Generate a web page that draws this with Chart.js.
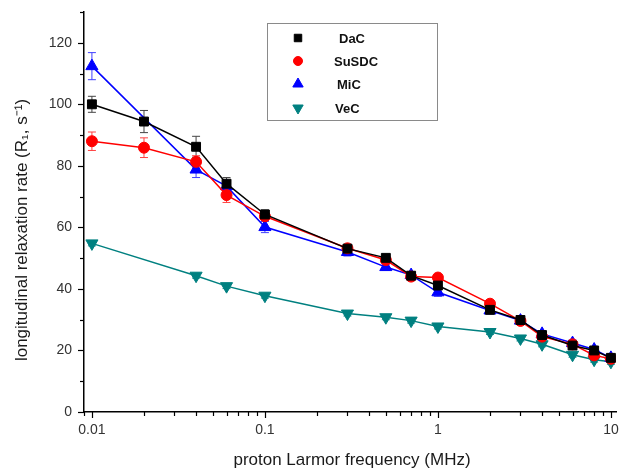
<!DOCTYPE html>
<html>
<head>
<meta charset="utf-8">
<script src="https://cdn.jsdelivr.net/npm/chart.js@4.4.1/dist/chart.umd.min.js"></script>
<style>
  html, body { margin: 0; padding: 0; background: #fff; }
  #wrap { width: 624px; height: 471px; }
</style>
</head>
<body>
<div id="wrap"><canvas id="relaxChart" width="624" height="471"></canvas></div>
<script>
/* ─── data ─── */
const freqs   = [0.01, 0.02, 0.04, 0.06, 0.1, 0.3, 0.5, 0.7, 1, 2, 3, 4, 6, 8, 10];
const dac     = [100, 94.4, 86.2, 74.2, 64.2, 53.1, 50.1, 44.3, 41.1, 33.2, 29.9, 25.0, 21.6, 20.0, 17.6];
const susdc   = [88.0, 85.9, 81.3, 70.5, 63.6, 53.2, 49.4, 44.0, 43.7, 35.2, 29.6, 24.5, 22.0, 18.4, 17.3];
const mic     = [112.4, null, 78.8, 73.4, 60.1, 52.0, 47.1, 44.5, 38.9, 33.0, 29.7, 25.4, 22.4, 20.3, 17.6];
const vec     = [54.8, null, 44.3, 40.9, 37.8, 32.0, 30.8, 29.7, 27.8, 26.0, 23.9, 22.0, 18.6, 17.0, 16.3];
const dacErr   = [2.6, 3.6, 3.4, 2.0, 1.5, 1.0, 1.0, 1.0, 1.0, 1.0, 1.0, 1.0, 1.0, 1.0, 1.0];
const susdcErr = [3.0, 3.2, 2.0, 2.4, 1.5, 1.0, 1.0, 1.0, 1.0, 1.0, 1.0, 1.0, 1.0, 1.0, 1.0];
const micErr   = [4.4, null, 2.6, 1.5, 1.8, 1.3, 1.0, 1.0, 1.3, 1.0, 1.0, 1.0, 1.0, 1.0, 1.0];
const vecErr   = [0.8, null, 0.8, 0.8, 0.8, 0.8, 0.8, 0.8, 0.8, 0.8, 0.8, 0.8, 0.8, 0.8, 0.8];

const xTickValues = [0.01, 0.1, 1, 10];
const xTickLabels = ['0.01', '0.1', '1', '10'];
const yTickValues = [0, 20, 40, 60, 80, 100, 120];

const FONT = '"Liberation Sans", Arial, sans-serif';

function pts(vals, errs) {
  return freqs.map((f, i) => ({ x: f, y: vals[i], err: errs[i] }));
}

const series = [
  { label: 'DaC',   vals: dac,   errs: dacErr,   color: '#000000', errColor: '#444444', style: 'rect',     radius: 6.3, rotation: 0 },
  { label: 'SuSDC', vals: susdc, errs: susdcErr, color: '#ff0000', errColor: '#ff4040', style: 'circle',   radius: 5.5, rotation: 0 },
  { label: 'MiC',   vals: mic,   errs: micErr,   color: '#0000ff', errColor: '#4040ff', style: 'triangle', radius: 7,   rotation: 0 },
  { label: 'VeC',   vals: vec,   errs: vecErr,   color: '#008080', errColor: '#208f8f', style: 'triangle', radius: 7,   rotation: 180 }
];

// is v a k*10^n value with integer k
function isDecadeStep(v) {
  const e = Math.floor(Math.log10(v) + 1e-9);
  const k = v / Math.pow(10, e);
  return Math.abs(k - Math.round(k)) < 1e-6;
}
function isPow10(v) {
  const l = Math.log10(v);
  return Math.abs(l - Math.round(l)) < 1e-6;
}

/* ─── error bars, drawn under markers ─── */
const errorBars = {
  id: 'errorBars',
  beforeDatasetsDraw(chart) {
    const { ctx, scales: { x, y } } = chart;
    ctx.save();
    ctx.lineWidth = 1;
    chart.data.datasets.forEach((ds, di) => {
      ctx.strokeStyle = series[di].errColor;
      ds.data.forEach(p => {
        if (p.y == null || !p.err) return;
        const px = x.getPixelForValue(p.x);
        const top = y.getPixelForValue(p.y + p.err);
        const bot = y.getPixelForValue(p.y - p.err);
        ctx.beginPath();
        ctx.moveTo(px, top); ctx.lineTo(px, bot);
        ctx.moveTo(px - 4, top); ctx.lineTo(px + 4, top);
        ctx.moveTo(px - 4, bot); ctx.lineTo(px + 4, bot);
        ctx.stroke();
      });
    });
    ctx.restore();
  }
};

/* ─── axis ticks (major longer than minor), titles, legend box ─── */
const decorations = {
  id: 'decorations',
  afterDraw(chart) {
    const { ctx, chartArea: a, scales: { x, y } } = chart;
    ctx.save();
    ctx.strokeStyle = '#000';
    ctx.lineWidth = 1.2;
    // x ticks
    x.ticks.forEach(t => {
      if (!isDecadeStep(t.value)) return;
      const px = Math.round(x.getPixelForValue(t.value)) + 0.5;
      const len = isPow10(t.value) ? 6 : 4;
      ctx.beginPath(); ctx.moveTo(px, a.bottom); ctx.lineTo(px, a.bottom + len); ctx.stroke();
    });
    // y ticks
    y.ticks.forEach(t => {
      const py = Math.round(y.getPixelForValue(t.value)) + 0.5;
      const len = t.value % 20 === 0 ? 6 : 4;
      ctx.beginPath(); ctx.moveTo(a.left, py); ctx.lineTo(a.left - len, py); ctx.stroke();
    });

    // axis titles
    ctx.fillStyle = '#1a1a1a';
    ctx.font = '17px ' + FONT;
    ctx.textAlign = 'center';
    ctx.textBaseline = 'middle';
    ctx.fillText('proton Larmor frequency (MHz)', 352, 460);

    ctx.translate(22, 230);
    ctx.rotate(-Math.PI / 2);
    ctx.fillText('longitudinal relaxation rate (R\u2081, s\u207B\u00B9)', 0, 0);
    ctx.restore();

    // legend
    ctx.save();
    ctx.strokeStyle = '#8a8a8a';
    ctx.lineWidth = 1;
    ctx.strokeRect(267.5, 23.5, 170, 97);
    const rows = [38, 61, 84, 108];
    const textX = [339, 334, 337, 335];
    ctx.font = 'bold 13px ' + FONT;
    ctx.textAlign = 'left';
    ctx.textBaseline = 'middle';
    series.forEach((s, i) => {
      ctx.fillStyle = s.color;
      ctx.strokeStyle = s.color;
      ctx.lineWidth = 1;
      Chart.helpers.drawPoint(ctx, {
        pointStyle: s.style, radius: s.radius - 1, rotation: s.rotation, borderWidth: 1
      }, 298, rows[i]);
      ctx.fillStyle = '#111';
      ctx.fillText(s.label, textX[i], rows[i] + 1);
    });
    ctx.restore();
  }
};

const datasets = series.map((s, i) => ({
  label: s.label,
  data: pts(s.vals, s.errs),
  borderColor: s.color,
  backgroundColor: s.color,
  borderWidth: 1.5,
  pointStyle: s.style,
  pointRadius: s.radius,
  pointRotation: s.rotation,
  pointBorderWidth: 1,
  pointBackgroundColor: s.color,
  pointBorderColor: s.color,
  tension: 0,
  spanGaps: true,
  order: i + 1
}));

new Chart(document.getElementById('relaxChart'), {
  type: 'line',
  data: { datasets },
  plugins: [errorBars, decorations],
  options: {
    responsive: false,
    animation: false,
    devicePixelRatio: 1,
    layout: { padding: { top: 12, right: -2, left: 0, bottom: 0 } },
    plugins: {
      legend: { display: false },
      tooltip: { enabled: false }
    },
    scales: {
      x: {
        type: 'logarithmic',
        min: 0.009,
        max: 10.7,
        afterFit: s => { s.height = 59; s.paddingLeft = 0; s.paddingRight = 0; },
        border: { display: true, color: '#000', width: 1.5 },
        grid: { display: true, drawOnChartArea: false, drawTicks: false },
        ticks: {
          autoSkip: false,
          maxRotation: 0,
          padding: 10,
          color: '#333',
          font: { family: FONT, size: 14 },
          callback: v => {
            const idx = xTickValues.findIndex(t => Math.abs(t - v) / t < 1e-6);
            return idx >= 0 ? xTickLabels[idx] : '';
          }
        }
      },
      y: {
        min: 0,
        max: 130,
        afterFit: s => { s.width = 84; s.paddingTop = 0; s.paddingBottom = 0; },
        border: { display: true, color: '#000', width: 1.5 },
        grid: { display: true, drawOnChartArea: false, drawTicks: false },
        ticks: {
          stepSize: 10,
          autoSkip: false,
          padding: 12,
          color: '#333',
          font: { family: FONT, size: 14 },
          callback: v => yTickValues.includes(v) ? String(v) : ''
        }
      }
    }
  }
});
</script>
</body>
</html>
